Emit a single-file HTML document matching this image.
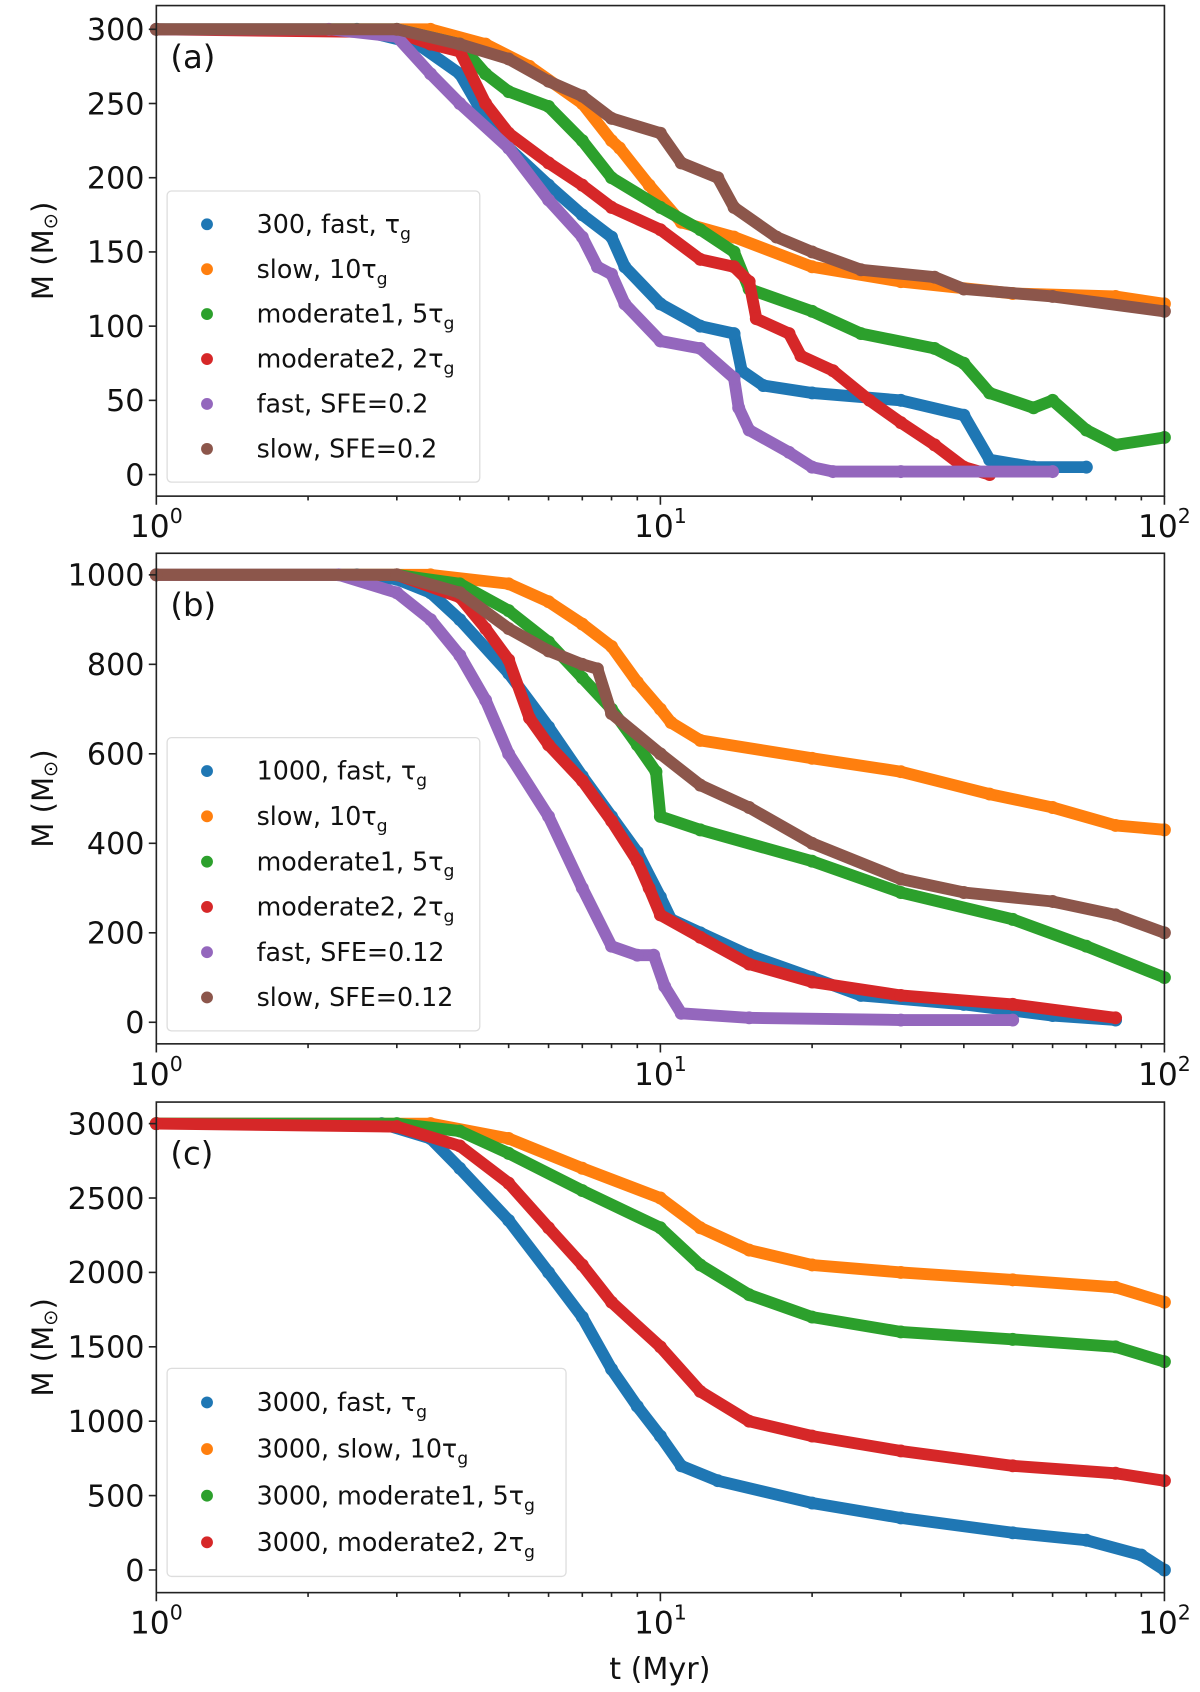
<!DOCTYPE html>
<html><head><meta charset="utf-8"><style>
html,body{margin:0;padding:0;background:#fff;}
svg{display:block;font-family:"DejaVu Sans","Liberation Sans",sans-serif;}
</style></head><body>
<svg id="fig" width="1200" height="1692" viewBox="0 0 1113 1569" xmlns="http://www.w3.org/2000/svg"></svg>
<script>
const COLORS=['#1f77b4','#ff7f0e','#2ca02c','#d62728','#9467bd','#8c564b'];
// Panel (a)
const aLabels=['300, fast, τ','slow, 10τ','moderate1, 5τ','moderate2, 2τ','fast, SFE=0.2','slow, SFE=0.2'];
const aSub=[true,true,true,true,false,false];
const aYTicks=[0,50,100,150,200,250,300];
const aBlueT=[1,2.5,3.3,4,4.5,5,6,7,8,8.5,10,12,14,14.5,16,20,30,40,45,55,70];
const aBlueM=[300,300,290,270,240,220,195,175,160,140,115,100,95,70,60,55,50,40,10,5,5];
const aOrangeT=[1,3.5,4.5,5.5,7,8,8.3,9.5,11,14,20,30,50,80,100];
const aOrangeM=[300,300,290,275,250,225,220,195,170,160,140,130,122,120,115];
const aGreenT=[1,3,4,4.5,5,6,7,8,10,12,14,15,20,25,35,40,45,55,60,70,80,100];
const aGreenM=[300,300,290,270,258,248,225,200,180,165,150,125,110,95,85,75,55,45,50,30,20,25];
const aRedT=[1,3,3.5,4,4.5,5,6,7,8,10,12,14,15,15.5,18,19,22,26,30,35,40,45];
const aRedM=[300,298,290,285,250,230,210,195,180,165,145,140,130,105,95,80,70,50,35,20,5,0];
const aPurpleT=[1,2.2,3,3.5,4,5,6,7,7.5,8,8.5,10,12,14,14.3,15,18,20,22,30,60];
const aPurpleM=[300,300,295,270,250,220,185,160,140,135,115,90,85,65,45,30,15,5,2,2,2];
const aBrownT=[1,3,4,5,6,7,8,10,11,13,14,17,20,25,35,40,60,100];
const aBrownM=[300,300,290,280,265,255,240,230,210,200,180,160,150,138,133,125,120,110];
// Panel (b)
const bLabels=['1000, fast, τ','slow, 10τ','moderate1, 5τ','moderate2, 2τ','fast, SFE=0.12','slow, SFE=0.12'];
const bSub=[true,true,true,true,false,false];
const bYTicks=[0,200,400,600,800,1000];
const bBlueT=[1,2.5,3,3.5,4,5,6,7,8,9,10,10.5,12,15,20,25,40,60,80];
const bBlueM=[1000,1000,990,960,900,780,660,550,460,380,280,230,200,150,100,60,40,15,5];
const bOrangeT=[1,3.5,5,6,7,8,9,10,10.5,12,20,30,45,60,80,100];
const bOrangeM=[1000,1000,980,940,890,840,760,700,670,630,590,560,510,480,440,430];
const bGreenT=[1,3,4,5,6,7,8,9,9.8,10,12,20,30,50,70,100];
const bGreenM=[1000,1000,980,920,850,770,700,620,560,460,430,360,290,230,170,100];
const bRedT=[1,3,4,4.5,5,5.5,6,7,8,9,9.5,10,12,15,20,30,50,80];
const bRedM=[1000,1000,950,880,810,680,620,540,450,360,300,240,190,130,90,60,40,10];
const bPurpleT=[1,2.3,3,3.5,4,4.5,5,6,7,8,9,9.7,10.2,11,15,30,50];
const bPurpleM=[1000,1000,960,900,820,720,600,460,300,170,150,150,80,20,10,5,5];
const bBrownT=[1,3,4,5,6,7,7.5,8,10,12,15,20,30,40,60,80,100];
const bBrownM=[1000,1000,960,880,830,800,790,690,600,530,480,400,320,290,270,240,200];
// Panel (c)
const cLabels=['3000, fast, τ','3000, slow, 10τ','3000, moderate1, 5τ','3000, moderate2, 2τ'];
const cSub=[true,true,true,true];
const cYTicks=[0,500,1000,1500,2000,2500,3000];
const cBlueT=[1,2.8,3.5,4,5,6,7,8,9,10,11,13,20,30,50,70,90,100];
const cBlueM=[3000,3000,2900,2700,2350,2000,1700,1350,1100,900,700,600,450,350,250,200,100,0];
const cOrangeT=[1,3.5,5,7,10,12,15,20,30,50,80,100];
const cOrangeM=[3000,3000,2900,2700,2500,2300,2150,2050,2000,1950,1900,1800];
const cGreenT=[1,3,4,5,7,10,12,15,20,30,50,80,100];
const cGreenM=[3000,3000,2950,2800,2550,2300,2050,1850,1700,1600,1550,1500,1400];
const cRedT=[1,3,4,5,6,7,8,10,12,15,20,30,50,80,100];
const cRedM=[3000,2980,2850,2600,2300,2050,1800,1500,1200,1000,900,800,700,650,600];

const NS='http://www.w3.org/2000/svg';
const svg=document.getElementById('fig');
function mk(tag,attrs,parent){const e=document.createElementNS(NS,tag);for(const k in attrs)e.setAttribute(k,attrs[k]);(parent||svg).appendChild(e);return e;}
const X0=145,X1=1080;
function xs(t){return X0+(X1-X0)*Math.log10(t)/2;}

function panel(name,top,bottom,yTop,yBot,vTop,ticks,series,labels,subs,legendBox,tag){
  const g=mk('g',{});
  
  
  const ys=v=>yBot+(yTop-yBot)*v/vTop;
  series.forEach((s,i)=>{
    const sg=mk('g',{},g);
    
    
    let d='';
    s[0].forEach((t,j)=>{d+=(j?'L':'M')+xs(t).toFixed(1)+' '+ys(s[1][j]).toFixed(1);});
    mk('path',{d:d,fill:'none',stroke:COLORS[i],'stroke-width':11,'stroke-linejoin':'round','stroke-linecap':'round'},sg);
    s[0].forEach((t,j)=>{
      const c=mk('circle',{cx:xs(t),cy:ys(s[1][j]),r:6,fill:COLORS[i]},sg);
      
      
    });
  });
  const fr=mk('rect',{x:X0,y:top,width:X1-X0,height:bottom-top,fill:'none',stroke:'#222','stroke-width':1.5},g);
  
  
  ticks.forEach(v=>{
    const y=ys(v);
    mk('line',{x1:X0-7,x2:X0,y1:y,y2:y,stroke:'#222','stroke-width':1.5},g);
    const tx=mk('text',{x:X0-11,y:y+10,'text-anchor':'end','font-size':28,fill:'#111'},g);
    tx.textContent=v;
    
    
  });
  for(let dec=0;dec<2;dec++){for(let m=1;m<10;m++){const t=Math.pow(10,dec)*m;const x=xs(t);
    mk('line',{x1:x,x2:x,y1:bottom,y2:bottom+(m==1?8:4),stroke:'#222','stroke-width':1.5},g);}}
  mk('line',{x1:X1,x2:X1,y1:bottom,y2:bottom+8,stroke:'#222','stroke-width':1.5},g);
  [0,1,2].forEach(e=>{
    const tx=mk('text',{x:xs(Math.pow(10,e)),y:bottom+38,'text-anchor':'middle','font-size':29,fill:'#111'},g);
    tx.innerHTML='10<tspan font-size="19" dy="-13">'+e+'</tspan>';
    
    
  });
  const yl=mk('text',{x:0,y:0,transform:'translate(49,'+((top+bottom)/2)+') rotate(-90)','text-anchor':'middle','font-size':27,fill:'#111'},g);
  yl.innerHTML='M (M<tspan font-size="18" dy="4">⊙</tspan><tspan dy="-4">)</tspan>';
  
  
  const pt=mk('text',{x:158,y:top+58,'font-size':30,fill:'#111'},g);
  pt.textContent=tag;
  
  
  const lg=mk('g',{},g);
  
  
  mk('rect',{x:legendBox[0],y:legendBox[1],width:legendBox[2],height:legendBox[3],rx:4,fill:'#fff','fill-opacity':0.85,stroke:'#ddd','stroke-width':1.2},lg);
  const step=(legendBox[3]-20)/labels.length;
  labels.forEach((l,i)=>{
    const cy=legendBox[1]+10+step*(i+0.5);
    const e=mk('g',{},lg);
    
    
    mk('circle',{cx:192,cy:cy,r:5.5,fill:COLORS[i]},e);
    const tx=mk('text',{x:238,y:cy+8,'font-size':23.5,fill:'#111'},e);
    tx.innerHTML=l+(subs[i]?'<tspan font-size="16" dy="6">g</tspan>':'');
  });
}

panel('panel-a',5,460,27,440,300,aYTicks,
 [[aBlueT,aBlueM],[aOrangeT,aOrangeM],[aGreenT,aGreenM],[aRedT,aRedM],[aPurpleT,aPurpleM],[aBrownT,aBrownM]],
 aLabels,aSub,[155,177,290,270],'(a)');
panel('panel-b',513,968,533,948,1000,bYTicks,
 [[bBlueT,bBlueM],[bOrangeT,bOrangeM],[bGreenT,bGreenM],[bRedT,bRedM],[bPurpleT,bPurpleM],[bBrownT,bBrownM]],
 bLabels,bSub,[155,684,290,272],'(b)');
panel('panel-c',1022,1477,1042,1456,3000,cYTicks,
 [[cBlueT,cBlueM],[cOrangeT,cOrangeM],[cGreenT,cGreenM],[cRedT,cRedM]],
 cLabels,cSub,[155,1269,370,193],'(c)');

const xl=mk('text',{x:612,y:1557,'text-anchor':'middle','font-size':28,fill:'#111'});
xl.textContent='t (Myr)';


</script>
</body></html>
